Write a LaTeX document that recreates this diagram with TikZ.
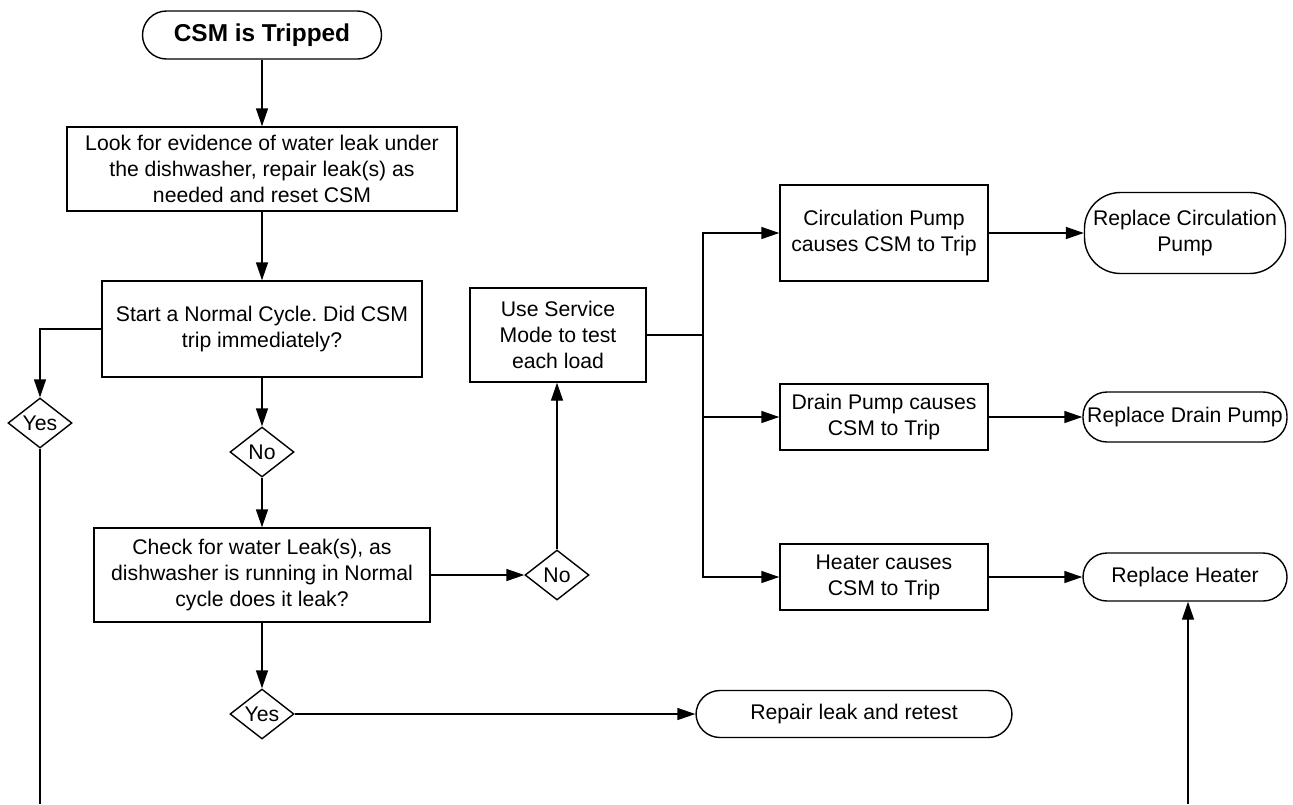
\documentclass[tikz,border=0pt]{standalone}
\usepackage{fontspec}
\setmainfont{Liberation Sans}
\usepackage{tikz}
\usetikzlibrary{arrows.meta,positioning,shapes.geometric}
\frenchspacing

\begin{document}
\begin{tikzpicture}[
  x=0.5pt, y=-0.5pt,
  every node/.style={font=\fontsize{10.6}{13}\selectfont, align=center, inner sep=1pt},
  box/.style={draw, line width=0.7pt, fill=white},
  term/.style={draw, line width=0.7pt, rounded corners=12pt, fill=white},
  choice/.style={draw, line width=0.7pt, diamond, aspect=1.3, inner sep=0pt, minimum width=32pt, minimum height=25pt},
  flow/.style={line width=0.7pt, -{Triangle[length=9pt,width=6pt]}},
  link/.style={line width=0.7pt}
]
\useasboundingbox (0,0) rectangle (1293,804);

% start and the first checks
\node[term, minimum width=119.5pt, minimum height=24pt, font=\fontsize{12.2}{14}\selectfont\bfseries] (trip) at (262,35) {CSM is Tripped};
\node[box, minimum width=195pt, minimum height=42pt] (look) at (262,169) {Look for evidence of water leak under\\the dishwasher, repair leak(s) as\\needed and reset CSM};
\node[box, minimum width=160pt, minimum height=48pt] (cycle) at (262,329) {Start a Normal Cycle. Did CSM\\trip immediately?};
\node[choice] (yesA) at (40,423) {Yes};
\node[choice] (noA) at (262,452) {No};
\node[box, minimum width=168pt, minimum height=47pt] (check) at (262,575) {Check for water Leak(s), as\\dishwasher is running in Normal\\cycle does it leak?};
\node[choice] (noB) at (557,575) {No};
\node[choice] (yesB) at (262,714) {Yes};
\node[term, minimum width=158pt, minimum height=23.5pt] (repair) at (854,714) {Repair leak and retest};

% service mode and the loads
\node[box, minimum width=88pt, minimum height=47pt] (svc) at (558,335) {Use Service\\Mode to test\\each load};
\coordinate (jn) at (703,335);
\node[box, minimum width=104pt, minimum height=48pt] (circ) at (884,233) {Circulation Pump\\causes CSM to Trip};
\node[box, minimum width=104pt, minimum height=33pt] (drain) at (884,417) {Drain Pump causes\\CSM to Trip};
\node[box, minimum width=104pt, minimum height=33pt] (heat) at (884,577) {Heater causes\\CSM to Trip};
\node[term, rounded corners=18pt, minimum width=100.5pt, minimum height=40.5pt] (rcirc) at (1185,233) {Replace Circulation\\Pump};
\node[term, minimum width=102pt, minimum height=25pt] (rdrain) at (1185,417) {Replace Drain Pump};
\node[term, minimum width=102pt, minimum height=24pt] (rheat) at (1185,577) {Replace Heater};

% loose ends at the bottom edge
\coordinate (endL) at (40,804);
\coordinate (endR) at (1188,804);

% connectors
\draw[flow] (trip) -- (look);
\draw[flow] (look) -- (cycle);
\draw[flow] (cycle.west) -| (yesA.north);
\draw[link] (yesA.south) -- (endL);
\draw[flow] (cycle) -- (noA);
\draw[flow] (noA) -- (check);
\draw[flow] (check.east) -- (noB.west);
\draw[flow] (noB.north) -- (noB.north |- svc.south);
\draw[flow] (check) -- (yesB);
\draw[flow] (yesB.east) -- (repair.west);
\draw[link] (svc.east) -- (jn);
\draw[flow] (jn) |- (circ.west);
\draw[flow] (jn) |- (drain.west);
\draw[flow] (jn) |- (heat.west);
\draw[flow] (circ) -- (rcirc);
\draw[flow] (drain) -- (rdrain);
\draw[flow] (heat) -- (rheat);
\draw[flow] (endR) -- (endR |- rheat.south);
\end{tikzpicture}
\end{document}
